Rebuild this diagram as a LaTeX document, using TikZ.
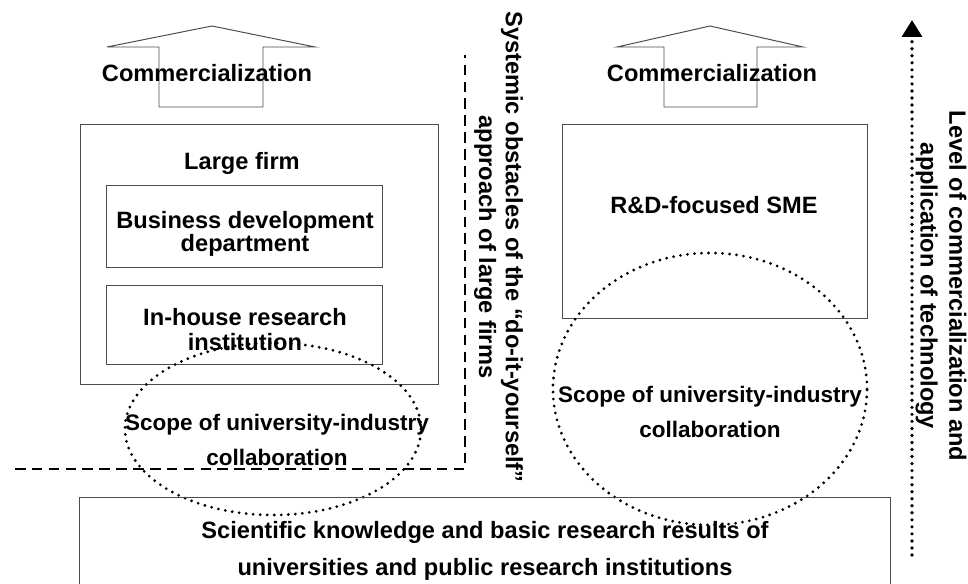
\documentclass[tikz,border=0pt]{standalone}
\usepackage{fontspec}
\setmainfont{Liberation Sans}
\usetikzlibrary{shapes.geometric, arrows.meta}
\tikzstyle{box} = [draw=black!70, line width=0.7pt, inner sep=0pt]
\tikzstyle{dots} = [line width=2.2pt, line cap=round, dash pattern=on 0pt off 5pt]
\tikzstyle{barrier} = [line width=1.6pt, dash pattern=on 7.5pt off 4.5pt]
\tikzset{txt/.style={align=center, font=\fontsize{16.8}{#1}\selectfont\bfseries}, txt/.default=21pt}
\tikzset{side/.style={txt=#1, rotate=-90}}

\begin{document}
\begin{tikzpicture}[x=0.025cm, y=-0.025cm]
\path[use as bounding box, clip] (0,0) rectangle (968,584);

%hollow arrows on top
\draw[box] (107,47) -- (212,26) -- (315,47) -- (263,47) -- (263,107) -- (159,107) -- (159,47) -- cycle;
\draw[box] (617,47) -- (710,26) -- (803,47) -- (757,47) -- (757,107) -- (664,107) -- (664,47) -- cycle;
\node[txt] (comL) at (207,73) {Commercialization};
\node[txt] (comR) at (712,73) {Commercialization};

%large firm
\node[box, minimum width=8.925cm, minimum height=6.475cm] (large) at (259.5,254.5) {};
\node[box, minimum width=6.875cm, minimum height=2.025cm] (bizdev) at (244.5,226.5) {};
\node[box, minimum width=6.875cm, minimum height=1.95cm] (inhouse) at (244.5,325) {};
\node[txt] (largelbl) at (242,163) {Large firm};
\node[txt=16.5pt] (bizdevlbl) at (245,233.5) {Business development\\department};
\node[txt=17.8pt] (inhouselbl) at (245,329.5) {In-house research\\institution};

%SME
\node[box, minimum width=7.6cm, minimum height=4.825cm] (sme) at (715,221.5) {};
\node[txt] (smelbl) at (714,205) {R\&D-focused SME};

%collaboration scopes
\node[dots, draw, ellipse, minimum width=7.4cm, minimum height=4.3cm] (scopeL) at (273,429) {};
\node[dots, draw, ellipse, minimum width=7.85cm, minimum height=6.8cm] (scopeR) at (710,389) {};
\node[txt, font=\fontsize{16}{24.9pt}\selectfont\bfseries] (scopeLlbl) at (277,440) {Scope of university-industry\\collaboration};
\node[txt, font=\fontsize{16}{24.9pt}\selectfont\bfseries] (scopeRlbl) at (710,412) {Scope of university-industry\\collaboration};

%basic research
\node[box, minimum width=20.25cm, minimum height=2.65cm] (science) at (485,551) {};
\node[txt=26.3pt] (sciencelbl) at (485,551) {Scientific knowledge and basic research results of\\universities and public research institutions};

%do-it-yourself barrier
\coordinate (dl) at (15,469);
\coordinate (dc) at (465,469);
\coordinate (dt) at (465,55);
\draw[barrier] (dl) -- (dc) -- (dt);
\node[side=19pt] (obstacle) at (498.5,247) {Systemic obstacles of the “do-it-yourself”\\approach of large firms};

%level axis
\coordinate (lvlbot) at (912,555);
\coordinate (lvltop) at (912,20);
\draw[dots, line width=2.6pt, -{Triangle[width=14pt,length=12pt]}] (lvlbot) -- (lvltop);
\node[side=20.5pt] (level) at (941,286) {Level of commercialization and\\application of technology};
\end{tikzpicture}
\end{document}
